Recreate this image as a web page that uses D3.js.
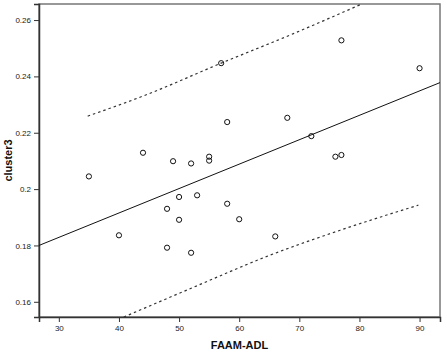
<!DOCTYPE html>
<html>
<head>
<meta charset="utf-8">
<script src="https://cdn.jsdelivr.net/npm/d3@7"></script>
<style>
  body { margin: 0; background: #fff; }
  text { font-family: Arial, "Liberation Sans", sans-serif; }
</style>
</head>
<body>
<script>
// data
let faamAdl = [35, 40, 44, 48, 48, 49, 50, 50, 52, 52, 53, 55, 55, 57, 58, 58, 60, 66, 68, 72, 76, 77, 77, 90];
let cluster3 = [0.2045, 0.1836, 0.2129, 0.1930, 0.1792, 0.2099, 0.1972, 0.1891, 0.2091, 0.1774, 0.1978, 0.2115, 0.2101,
                0.2447, 0.2238, 0.1948, 0.1893, 0.1832, 0.2253, 0.2188, 0.2115, 0.2121, 0.2528, 0.2429];

// fitted line and interval curves
let fitX = [26.7, 93.4];
let fitY = [0.1800, 0.2378];
let upperX = [34.8, 44.7, 57.0, 68.6, 80.4];
let upperY = [0.2259, 0.2336, 0.2447, 0.2548, 0.2657];
let lowerX = [40.8, 51.9, 65.2, 76.8, 89.8];
let lowerY = [0.1546, 0.1647, 0.1766, 0.1854, 0.1943];

let xTicks = [30, 40, 50, 60, 70, 80, 90];
let yTicks = [0.16, 0.18, 0.20, 0.22, 0.24, 0.26];

// set the dimensions and margins of the graph
let margin = {top: 4, right: 7, bottom: 35, left: 39},
    width = 447 - margin.left - margin.right,
    height = 352 - margin.top - margin.bottom;

let svg = d3.select("body")
    .append("svg")
    .attr("width", 447)
    .attr("height", 352)
    .append("g")
    .attr("transform", "translate(" + margin.left + "," + margin.top + ")");

let x = d3.scaleLinear()
    .domain([26.7, 93.4])
    .range([0, width]);

let y = d3.scaleLinear()
    .domain([0.1546, 0.2657])
    .range([height, 0]);

// frame
svg.append("rect")
    .attr("width", width)
    .attr("height", height)
    .attr("fill", "none")
    .attr("stroke", "#777")
    .attr("stroke-width", 1.5);

// X axis
let xAxis = svg.append("g")
    .attr("transform", "translate(0," + height + ")")
    .call(d3.axisBottom(x).tickValues(xTicks).tickSize(5).tickPadding(3).tickFormat(d3.format("d")));

// Y axis
let yAxis = svg.append("g")
    .call(d3.axisLeft(y).tickValues(yTicks).tickSize(5).tickPadding(3)
        .tickFormat(function(d) { return d === 0.2 ? "0.2" : d3.format(".2f")(d); }));

[xAxis, yAxis].forEach(function(a) {
    a.select(".domain").attr("stroke", "#333").attr("stroke-width", 1.5);
    a.selectAll(".tick line").attr("stroke", "#333");
    a.selectAll(".tick text")
        .attr("font-family", "Arial, 'Liberation Sans', sans-serif")
        .attr("font-size", 8)
        .attr("fill", "#222");
});

// clip everything to the plot area
svg.append("clipPath")
    .attr("id", "plot")
    .append("rect")
    .attr("width", width)
    .attr("height", height);

let inner = svg.append("g").attr("clip-path", "url(#plot)");

let line = d3.line()
    .x(function(d) { return x(d[0]) })
    .y(function(d) { return y(d[1]) });

// interval curves
inner.append("path")
    .datum(d3.zip(upperX, upperY))
    .attr("fill", "none")
    .attr("stroke", "#333")
    .attr("stroke-width", 1.2)
    .attr("stroke-dasharray", "2.5,3")
    .attr("d", line.curve(d3.curveMonotoneX));

inner.append("path")
    .datum(d3.zip(lowerX, lowerY))
    .attr("fill", "none")
    .attr("stroke", "#333")
    .attr("stroke-width", 1.2)
    .attr("stroke-dasharray", "2.5,3")
    .attr("d", line.curve(d3.curveMonotoneX));

// fit line
inner.append("path")
    .datum(d3.zip(fitX, fitY))
    .attr("fill", "none")
    .attr("stroke", "#111")
    .attr("stroke-width", 1)
    .attr("d", line.curve(d3.curveLinear));

// points
inner.selectAll("circle")
    .data(d3.zip(faamAdl, cluster3))
    .enter()
    .append("circle")
    .attr("cx", function(d) { return x(d[0]) })
    .attr("cy", function(d) { return y(d[1]) })
    .attr("r", 2.6)
    .attr("fill", "none")
    .attr("stroke", "#111")
    .attr("stroke-width", 1);

// axis titles
svg.append("text")
    .attr("x", width / 2)
    .attr("y", height + 32)
    .attr("text-anchor", "middle")
    .attr("font-size", 11)
    .attr("font-weight", "bold")
    .attr("fill", "#111")
    .text("FAAM-ADL");

svg.append("text")
    .attr("transform", "translate(" + (-margin.left + 12) + "," + (height / 2) + ") rotate(-90)")
    .attr("text-anchor", "middle")
    .attr("font-size", 11)
    .attr("font-weight", "bold")
    .attr("fill", "#111")
    .text("cluster3");
</script>
</body>
</html>
